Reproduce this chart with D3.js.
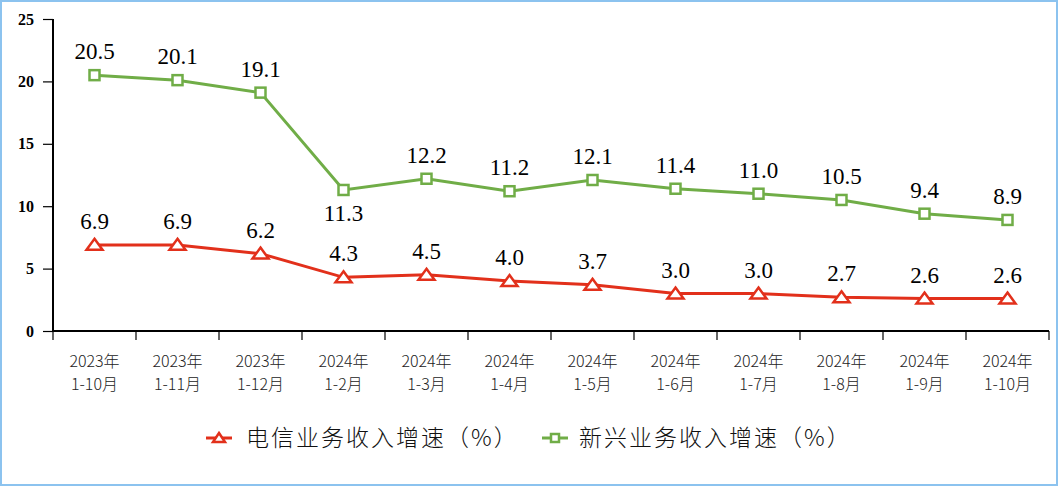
<!DOCTYPE html>
<html><head><meta charset="utf-8">
<script src="https://cdn.jsdelivr.net/npm/d3@7"></script>
<style>body{margin:0;background:#fff}svg{display:block}</style>
</head><body>
<script>
const years = ["2023年","2023年","2023年","2024年","2024年","2024年","2024年","2024年","2024年","2024年","2024年","2024年"];
const months = ["1-10月","1-11月","1-12月","1-2月","1-3月","1-4月","1-5月","1-6月","1-7月","1-8月","1-9月","1-10月"];
const telecom = [6.9,6.9,6.2,4.3,4.5,4.0,3.7,3.0,3.0,2.7,2.6,2.6];
const emerging = [20.5,20.1,19.1,11.3,12.2,11.2,12.1,11.4,11.0,10.5,9.4,8.9];
const yTicks = [0,5,10,15,20,25];
const seriesNames = ["电信业务收入增速（%）","新兴业务收入增速（%）"];

const W=1058,H=486;
const svg=d3.select("body").append("svg").attr("width",W).attr("height",H);
svg.append("rect").attr("x",1).attr("y",1).attr("width",W-2).attr("height",H-2).attr("fill","#fff").attr("stroke","#8cc3ef").attr("stroke-width",2);

const idx=d3.range(years.length);
const x=d3.scaleBand().domain(idx).range([53,1049]);
const y=d3.scaleLinear().domain([0,25]).range([331,19]);
const cx=i=>x(i)+x.bandwidth()/2;

// y axis
const ya=svg.append("g").attr("transform","translate(53,0)").call(d3.axisLeft(y).tickValues(yTicks).tickSize(10).tickPadding(9));
ya.select(".domain").attr("stroke","#000").attr("stroke-width",2).attr("d","M0,19V331");
ya.selectAll(".tick line").attr("stroke","#000").attr("stroke-width",1.2);
ya.selectAll("text").attr("font-family","Liberation Serif").attr("font-weight","bold").attr("font-size",16).attr("fill","#000");

// x axis
const xa=svg.append("g").attr("transform","translate(0,331)");
xa.append("line").attr("x1",53).attr("x2",1049).attr("stroke","#000").attr("stroke-width",2);
const edges=idx.map(i=>x(i)).concat([1049]);
xa.selectAll("line.tk").data(edges).join("line").attr("class","tk").attr("x1",d=>d).attr("x2",d=>d).attr("y1",0).attr("y2",9).attr("stroke","#000").attr("stroke-width",1.2);
const xl=xa.selectAll("text.xl").data(idx).join("text").attr("class","xl").attr("x",cx).attr("text-anchor","middle").attr("font-family","Noto Sans CJK SC").attr("font-weight",300).attr("font-size",16).attr("fill","#222");
xl.append("tspan").attr("x",cx).attr("y",36).text(i=>years[i]);
xl.append("tspan").attr("x",cx).attr("y",59).text(i=>months[i]);

const line=d3.line().x((d,i)=>cx(i)).y(d=>y(d));
const red="#e2301b", green="#70ad47";

svg.append("path").datum(emerging).attr("d",line).attr("fill","none").attr("stroke",green).attr("stroke-width",3);
svg.append("path").datum(telecom).attr("d",line).attr("fill","none").attr("stroke",red).attr("stroke-width",3);

const sq=(g,px,py,s)=>g.append("rect").attr("x",px-s/2).attr("y",py-s/2).attr("width",s).attr("height",s).attr("fill","#fff").attr("stroke",green).attr("stroke-width",2.5);
const tri=(g,px,py,w,h)=>g.append("path").attr("d",`M${px},${py-h*0.55}L${px+w/2},${py+h*0.45}L${px-w/2},${py+h*0.45}Z`).attr("fill","#fff").attr("stroke",red).attr("stroke-width",2.5);

emerging.forEach((v,i)=>sq(svg,cx(i),y(v),10));
telecom.forEach((v,i)=>tri(svg,cx(i),y(v),16,11));

const lab=(v,i,dy)=>svg.append("text").attr("x",cx(i)).attr("y",y(v)+dy).attr("text-anchor","middle").attr("font-family","Liberation Serif").attr("font-size",23).attr("fill","#000").text(v.toFixed(1));
emerging.forEach((v,i)=>lab(v,i,i===3?31:-16));
telecom.forEach((v,i)=>lab(v,i,-16));

// legend
const lg=svg.append("g");
lg.append("line").attr("x1",206).attr("x2",232).attr("y1",438).attr("y2",438).attr("stroke",red).attr("stroke-width",3);
tri(lg,219,438,12,9);
lg.append("text").attr("x",246).attr("y",446).attr("font-family","Noto Sans CJK SC").attr("font-weight",300).attr("font-size",23).attr("letter-spacing",2).attr("fill","#111").text(seriesNames[0]);
lg.append("line").attr("x1",542).attr("x2",568).attr("y1",438).attr("y2",438).attr("stroke",green).attr("stroke-width",3);
sq(lg,555,438,8);
lg.append("text").attr("x",579).attr("y",446).attr("font-family","Noto Sans CJK SC").attr("font-weight",300).attr("font-size",23).attr("letter-spacing",2).attr("fill","#111").text(seriesNames[1]);
</script>
</body></html>
